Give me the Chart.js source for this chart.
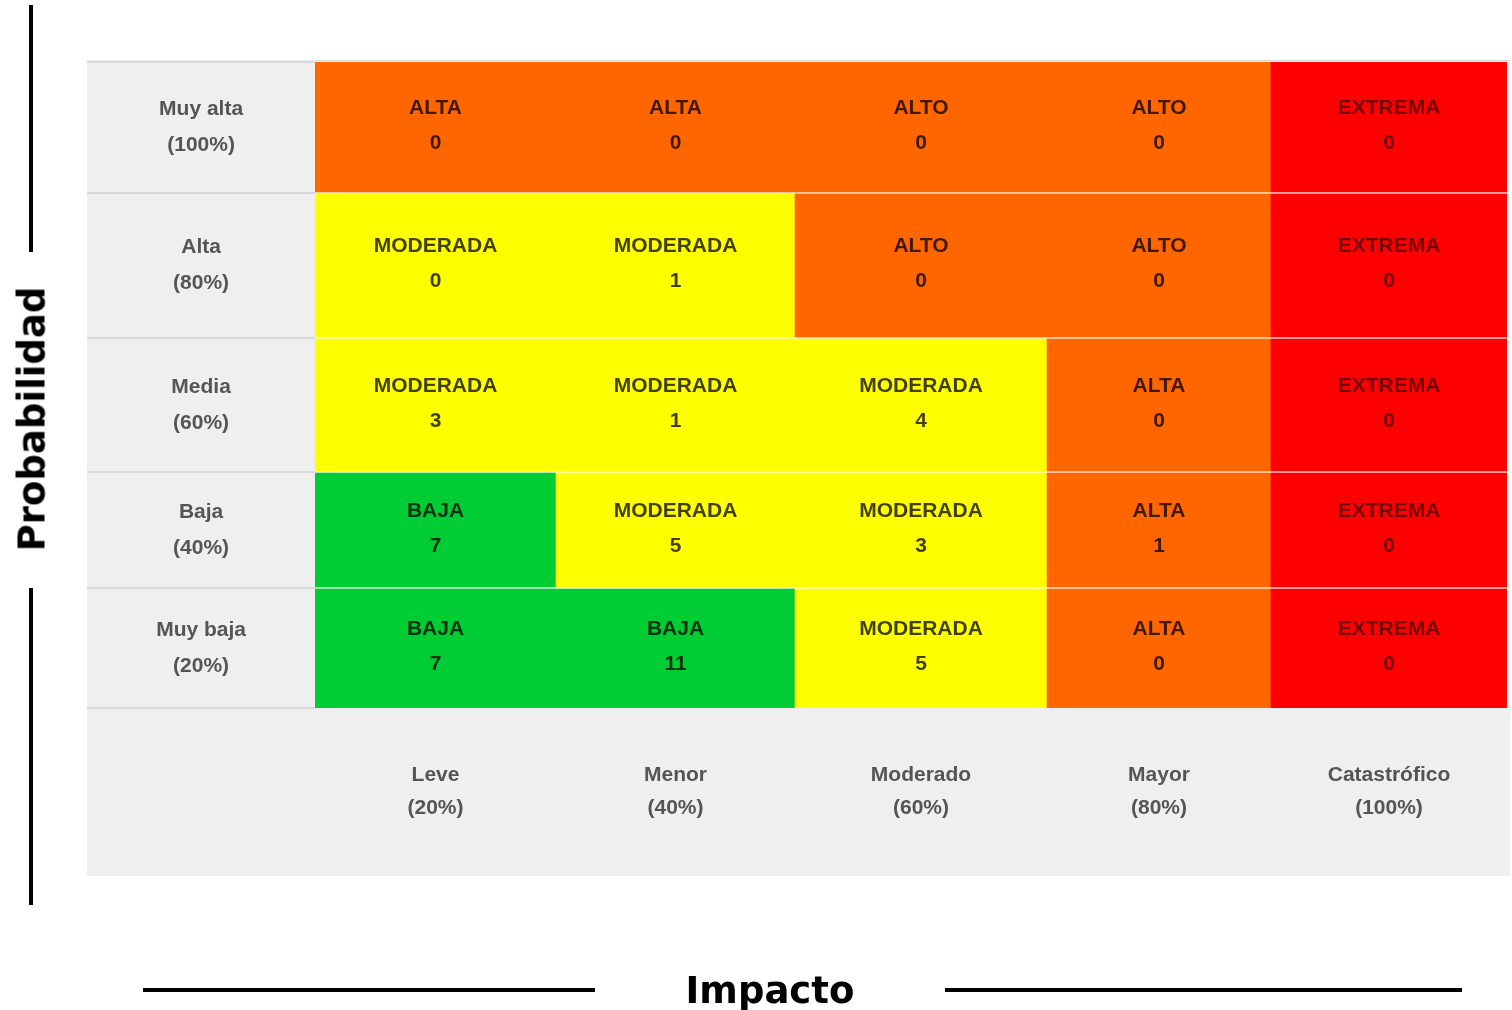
<!DOCTYPE html>
<html lang="es">
<head>
<meta charset="utf-8">
<title>Matriz de riesgos</title>
<script src="https://cdn.jsdelivr.net/npm/chart.js@4.4.1/dist/chart.umd.min.js"></script>
<style>
  html, body { margin: 0; padding: 0; background: #fff; }
  #wrap { position: relative; width: 1512px; height: 1010px; overflow: hidden; }
  #matriz { position: absolute; left: 0; top: 0; }
  .linea { position: absolute; background: #000; }
  .titulo { position: absolute; font-family: "DejaVu Sans", Verdana, sans-serif; font-weight: bold; font-size: 37px; color: #000; white-space: nowrap; }
  #tituloProb { left: 32px; top: 419px; transform: translate(-50%, -50%) rotate(-90deg); }
  #tituloImp { left: 770px; top: 990px; transform: translate(-50%, -50%); }
</style>
</head>
<body>
<div id="wrap">
  <canvas id="matriz" width="1512" height="1010"></canvas>
  <div class="linea" style="left:29px; top:5px; width:4px; height:247px;"></div>
  <div class="linea" style="left:29px; top:588px; width:4px; height:317px;"></div>
  <div class="titulo" id="tituloProb">Probabilidad</div>
  <div class="linea" style="left:143px; top:988px; width:452px; height:4px;"></div>
  <div class="linea" style="left:945px; top:988px; width:517px; height:4px;"></div>
  <div class="titulo" id="tituloImp">Impacto</div>
</div>
<script>
// filas (probabilidad) y columnas (impacto)
const probLabels = ['Muy alta', 'Alta', 'Media', 'Baja', 'Muy baja'];
const probPct = ['100%', '80%', '60%', '40%', '20%'];
const impactLabels = ['Leve', 'Menor', 'Moderado', 'Mayor', 'Catastrófico'];
const impactPct = ['20%', '40%', '60%', '80%', '100%'];

// nivel de riesgo de cada celda
const nivelMuyAlta = ['ALTA', 'ALTA', 'ALTO', 'ALTO', 'EXTREMA'];
const nivelAlta = ['MODERADA', 'MODERADA', 'ALTO', 'ALTO', 'EXTREMA'];
const nivelMedia = ['MODERADA', 'MODERADA', 'MODERADA', 'ALTA', 'EXTREMA'];
const nivelBaja = ['BAJA', 'MODERADA', 'MODERADA', 'ALTA', 'EXTREMA'];
const nivelMuyBaja = ['BAJA', 'BAJA', 'MODERADA', 'ALTA', 'EXTREMA'];

// cantidad de riesgos en cada celda
const riesgosMuyAlta = [0, 0, 0, 0, 0];
const riesgosAlta = [0, 1, 0, 0, 0];
const riesgosMedia = [3, 1, 4, 0, 0];
const riesgosBaja = [7, 5, 3, 1, 0];
const riesgosMuyBaja = [7, 11, 5, 0, 0];

const niveles = [nivelMuyAlta, nivelAlta, nivelMedia, nivelBaja, nivelMuyBaja];
const riesgos = [riesgosMuyAlta, riesgosAlta, riesgosMedia, riesgosBaja, riesgosMuyBaja];

// bordes de columnas y filas en unidades de eje (layout)
const colEdges = [0, 241, 480, 732, 956, 1192];
const rowEdges = [0, 131, 276, 410, 526, 646];

const colores = {
    'BAJA': '#00cc33',
    'MODERADA': '#ffff00',
    'ALTA': '#ff6600',
    'ALTO': '#ff6600',
    'EXTREMA': '#ff0000'
};

function centros(edges){
    const c = [];
    for (let i = 0; i < edges.length - 1; i++) {
        c.push((edges[i] + edges[i + 1]) / 2);
    }
    return c;
}
const colCentros = centros(colEdges);
const rowCentros = centros(rowEdges);

const datasets = [];
for (let r = 0; r < probLabels.length; r++) {
    const data = [];
    for (let c = 0; c < impactLabels.length; c++) {
        data.push({x: [colEdges[c], colEdges[c + 1]], y: rowCentros[r]});
    }
    datasets.push({
        label: probLabels[r],
        data: data,
        backgroundColor: niveles[r].map(n => colores[n]),
        borderWidth: 0,
        grouped: false,
        barThickness: rowEdges[r + 1] - rowEdges[r],
        niveles: niveles[r],
        riesgos: riesgos[r]
    });
}

const fuente = '"Liberation Sans", Arial, sans-serif';

const decoracion = {
    id: 'decoracion',
    beforeDraw(chart){
        const ctx = chart.ctx;
        const a = chart.chartArea;
        const ys = chart.scales.y;
        const xs = chart.scales.x;
        ctx.save();
        ctx.fillStyle = '#efefef';
        ctx.fillRect(ys.left, a.top - 2, a.right + 3 - ys.left, xs.bottom - a.top + 2);
        ctx.restore();
    },
    afterDatasetsDraw(chart){
        const ctx = chart.ctx;
        const a = chart.chartArea;
        const ys = chart.scales.y;
        ctx.save();
        rowEdges.forEach((e, i) => {
            const py = Math.round(ys.getPixelForValue(e));
            ctx.fillStyle = '#d8d8d8';
            ctx.fillRect(ys.left, py - 1, a.left - ys.left, 2);
            if (i === 0) {
                ctx.fillRect(a.left, py - 2, a.right + 3 - a.left, 1);
            } else if (i < rowEdges.length - 1) {
                ctx.fillStyle = 'rgba(255,255,255,0.6)';
                ctx.fillRect(a.left, py - 1, a.right - a.left, 2);
            }
        });
        ctx.font = 'bold 21px ' + fuente;
        ctx.textAlign = 'center';
        ctx.textBaseline = 'middle';
        chart.data.datasets.forEach((ds, di) => {
            const meta = chart.getDatasetMeta(di);
            meta.data.forEach((bar, i) => {
                const cx = (bar.x + bar.base) / 2;
                const cy = bar.y;
                ctx.fillStyle = ds.niveles[i] === 'EXTREMA' ? 'rgba(0,0,0,0.55)' : 'rgba(0,0,0,0.75)';
                ctx.fillText(ds.niveles[i], cx, cy - 19);
                ctx.fillText(String(ds.riesgos[i]), cx, cy + 16);
            });
        });
        ctx.restore();
    }
};

const ctx = document.getElementById('matriz').getContext('2d');
new Chart(ctx, {
    type: 'bar',
    data: { datasets: datasets },
    options: {
        indexAxis: 'y',
        responsive: false,
        animation: false,
        events: [],
        layout: { padding: { left: 87, top: 62, right: 5, bottom: 134 } },
        plugins: {
            legend: { display: false },
            tooltip: { enabled: false }
        },
        scales: {
            x: {
                type: 'linear',
                position: 'bottom',
                offset: false,
                min: colEdges[0],
                max: colEdges[colEdges.length - 1],
                grid: { display: false, drawTicks: false },
                border: { display: false },
                afterBuildTicks(scale){
                    scale.ticks = colCentros.map(v => ({value: v}));
                },
                afterFit(scale){
                    scale.height = 168;
                    scale.paddingLeft = 0;
                    scale.paddingRight = 0;
                },
                ticks: {
                    padding: 50,
                    color: '#555',
                    font: { family: fuente, size: 21, weight: 'bold', lineHeight: 1.6 },
                    maxRotation: 0,
                    autoSkip: false,
                    callback: (v, i) => [impactLabels[i], '(' + impactPct[i] + ')']
                }
            },
            y: {
                type: 'linear',
                position: 'left',
                offset: false,
                reverse: true,
                min: rowEdges[0],
                max: rowEdges[rowEdges.length - 1],
                grid: { display: false, drawTicks: false, offset: false },
                border: { display: false },
                afterBuildTicks(scale){
                    scale.ticks = rowCentros.map(v => ({value: v}));
                },
                afterFit(scale){
                    scale.width = 228;
                    scale.paddingTop = 0;
                    scale.paddingBottom = 0;
                },
                ticks: {
                    padding: 69,
                    crossAlign: 'center',
                    color: '#555',
                    font: { family: fuente, size: 21, weight: 'bold', lineHeight: 1.7 },
                    autoSkip: false,
                    callback: (v, i) => [probLabels[i], '(' + probPct[i] + ')']
                }
            }
        }
    },
    plugins: [decoracion]
});
</script>
</body>
</html>
